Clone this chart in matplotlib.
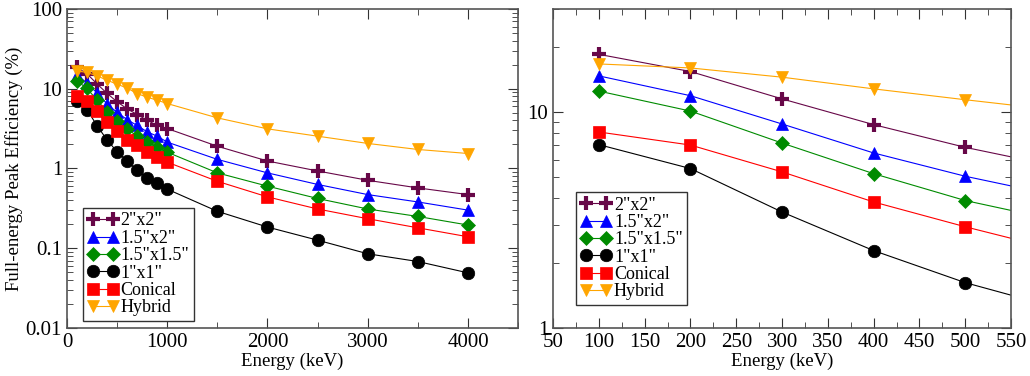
import numpy as np
import matplotlib
matplotlib.use('Agg')
import matplotlib.pyplot as plt
from matplotlib.ticker import LogLocator, MultipleLocator, FixedLocator, NullFormatter, FuncFormatter

plt.rcParams['font.family'] = ['Liberation Serif', 'DejaVu Serif']

energy = [100, 200, 300, 400, 500, 600, 700, 800, 900, 1000,
          1500, 2000, 2500, 3000, 3500, 4000]

eff_2x2 = [18.5, 15.4, 11.5, 8.74, 6.86, 5.6, 4.75, 4.03, 3.46, 3.17,
           1.90, 1.24, 0.93, 0.71, 0.57, 0.47]
eff_15x2 = [14.7, 11.9, 8.8, 6.46, 5.04, 4.1, 3.46, 2.88, 2.54, 2.14,
            1.30, 0.88, 0.63, 0.47, 0.38, 0.30]
eff_15x15 = [12.5, 10.1, 7.18, 5.18, 3.89, 3.15, 2.54, 2.14, 1.87, 1.60,
             0.88, 0.60, 0.42, 0.31, 0.25, 0.195]
eff_1x1 = [7.06, 5.47, 3.44, 2.28, 1.62, 1.24, 0.95, 0.76, 0.65, 0.55,
           0.29, 0.184, 0.126, 0.085, 0.068, 0.049]
eff_conical = [8.08, 7.03, 5.28, 3.83, 2.94, 2.3, 1.96, 1.60, 1.39, 1.20,
               0.69, 0.44, 0.31, 0.234, 0.18, 0.139]
eff_hybrid = [16.7, 16.0, 14.5, 12.8, 11.4, 10.2, 8.7, 7.83, 7.18, 6.52,
              4.31, 3.14, 2.54, 2.06, 1.73, 1.54]

labels = ['2"x2"', '1.5"x2"', '1.5"x1.5"', '1"x1"', 'Conical', 'Hybrid']
series = [eff_2x2, eff_15x2, eff_15x15, eff_1x1, eff_conical, eff_hybrid]
colors = ['#670748', '#0000ff', '#008b00', '#000000', '#ff0000', '#ffa500']
markers = ['+', '^', 'D', 'o', 's', 'v']
msizes = [10, 9, 7.5, 9, 8.5, 9]

fig = plt.figure(figsize=(10.3, 3.76), dpi=100)
ax1 = fig.add_axes([0.065, 0.128, 0.438, 0.848])
ax2 = fig.add_axes([0.537, 0.128, 0.4446, 0.848])

for ax in (ax1, ax2):
    for y, lab, c, m, ms in zip(series, labels, colors, markers, msizes):
        ax.plot(energy, y, color=c, lw=0.8, marker=m, markersize=ms,
                markeredgewidth=3 if m == '+' else 0.5, markerfacecolor=c,
                markeredgecolor=c, label=lab)
    ax.set_yscale('log')
    ax.tick_params(which='both', direction='in', top=True, right=True,
                   labelsize=15, colors='#333333', labelcolor='black')
    ax.tick_params(which='major', length=7)
    ax.tick_params(which='minor', length=4)
    for s in ax.spines.values():
        s.set_color('#555555')
        s.set_linewidth(1.2)
    ax.set_xlabel('Energy (keV)', fontsize=13.5, labelpad=1)
    leg = ax.legend(loc='upper left', fontsize=13, numpoints=2, fancybox=False,
                    edgecolor='#333333', framealpha=1, handlelength=1.7,
                    handletextpad=0.15, borderpad=0.25, labelspacing=0.02,
                    borderaxespad=0)
    leg.get_frame().set_linewidth(1.0)

ax1.set_xlim(0, 4500)
ax1.set_ylim(0.01, 100)
ax1.xaxis.set_major_locator(MultipleLocator(1000))
ax1.xaxis.set_minor_locator(MultipleLocator(500))
ax1.yaxis.set_major_locator(LogLocator(base=10, numticks=10))
ax1.yaxis.set_minor_locator(LogLocator(base=10, subs=np.arange(2, 10), numticks=10))
ax1.yaxis.set_minor_formatter(NullFormatter())
ax1.yaxis.set_major_formatter(FuncFormatter(lambda v, p: '%g' % v))
ax1.set_ylabel('Full-energy Peak Efficiency (%)', fontsize=13.5, labelpad=2)
ax1.get_legend().set_bbox_to_anchor((0.035, 0.376))

ax2.set_xlim(50, 550)
ax2.set_ylim(1, 30)
ax2.xaxis.set_major_locator(MultipleLocator(50))
ax2.xaxis.set_minor_locator(MultipleLocator(25))
ax2.yaxis.set_major_locator(FixedLocator([1, 10]))
ax2.yaxis.set_minor_locator(FixedLocator([2, 3, 4, 5, 6, 7, 8, 9, 20, 30]))
ax2.yaxis.set_minor_formatter(NullFormatter())
ax2.yaxis.set_major_formatter(FuncFormatter(lambda v, p: '%g' % v))
ax2.get_legend().set_bbox_to_anchor((0.05, 0.426))

fig.savefig('out.png', dpi=100)
